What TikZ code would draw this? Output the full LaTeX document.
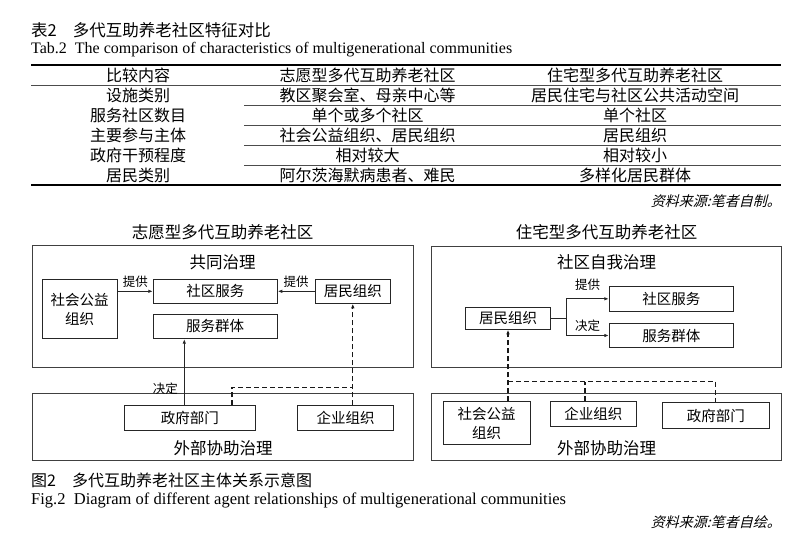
\documentclass[tikz,border=0pt]{standalone}
\usepackage{fontspec}
\setmainfont{Liberation Serif}
\newfontfamily\cjk{Noto Sans CJK SC}
\newfontfamily\cjksl[FakeSlant=0.25]{Noto Sans CJK SC}
\usetikzlibrary{arrows.meta}
\begin{document}
\begin{tikzpicture}[x=1pt,y=-1pt,
  line/.style={draw=black!85,line width=0.9pt},
  box/.style={line,inner sep=0pt,font=\cjk\fontsize{14.5}{18}\selectfont,align=center},
  frame/.style={draw=black!75,line width=0.9pt,inner sep=0pt},
  ttl/.style={font=\cjk\fontsize{16.5}{19}\selectfont,inner sep=0pt},
  lbl/.style={font=\cjk\fontsize{12.5}{14}\selectfont,inner sep=0pt},
  tcell/.style={font=\cjk\fontsize{16}{18}\selectfont,inner sep=0pt},
  note/.style={font=\cjksl\fontsize{14}{16}\selectfont,inner sep=0pt,anchor=east},
  entext/.style={inner sep=0pt,anchor=west},
  arr/.style={-{Latex[length=4.5pt,width=3.5pt]}},
  dsh/.style={draw=black!90,line width=1.2pt,dash pattern=on 5pt off 3pt},
  trule/.style={draw=black,line width=1.8pt},
  srule/.style={draw=black!70,line width=0.8pt},
]
\useasboundingbox (0,0) rectangle (794,542);

% ---------- Table ----------
\node[ttl,anchor=west] (tcap) at (31,30) {表2\hspace{16pt}多代互助养老社区特征对比};
\node[entext,font=\fontsize{16}{18}\selectfont] (tcapen) at (31,50) {Tab.2\ \ The comparison of characteristics of multigenerational communities};

\coordinate (tl0) at (31,65);  \coordinate (tr0) at (781,65);
\coordinate (tl1) at (31,85);  \coordinate (tr1) at (781,85);
\coordinate (tl2) at (244,105); \coordinate (tr2) at (781,105);
\coordinate (tl3) at (244,125); \coordinate (tr3) at (781,125);
\coordinate (tl4) at (244,145); \coordinate (tr4) at (781,145);
\coordinate (tl5) at (244,165); \coordinate (tr5) at (781,165);
\coordinate (tl6) at (31,185); \coordinate (tr6) at (781,185);
\draw[trule] (tl0) -- (tr0);
\draw[srule] (tl1) -- (tr1);
\draw[srule] (tl2) -- (tr2);
\draw[srule] (tl3) -- (tr3);
\draw[srule] (tl4) -- (tr4);
\draw[srule] (tl5) -- (tr5);
\draw[trule] (tl6) -- (tr6);

\node[tcell] (h1) at (138,75) {比较内容};
\node[tcell] (h2) at (367.5,75) {志愿型多代互助养老社区};
\node[tcell] (h3) at (635,75) {住宅型多代互助养老社区};
\node[tcell] (a1) at (138,95) {设施类别};
\node[tcell] (a2) at (367.5,95) {教区聚会室、母亲中心等};
\node[tcell] (a3) at (635,95) {居民住宅与社区公共活动空间};
\node[tcell] (b1) at (138,115) {服务社区数目};
\node[tcell] (b2) at (367.5,115) {单个或多个社区};
\node[tcell] (b3) at (635,115) {单个社区};
\node[tcell] (c1) at (138,135) {主要参与主体};
\node[tcell] (c2) at (367.5,135) {社会公益组织、居民组织};
\node[tcell] (c3) at (635,135) {居民组织};
\node[tcell] (d1) at (138,155) {政府干预程度};
\node[tcell] (d2) at (367.5,155) {相对较大};
\node[tcell] (d3) at (635,155) {相对较小};
\node[tcell] (e1) at (138,175) {居民类别};
\node[tcell] (e2) at (367.5,175) {阿尔茨海默病患者、难民};
\node[tcell] (e3) at (635,175) {多样化居民群体};

\node[note] (src1) at (781,201) {资料来源:笔者自制。};

% ---------- Left figure ----------
\node[ttl] (titL) at (222.5,232) {志愿型多代互助养老社区};
\node[frame,minimum width=381.4pt,minimum height=122pt] (outL) at (223,306.7) {};
\node[ttl] (gzL) at (222.5,262) {共同治理};
\node[frame,minimum width=381pt,minimum height=66.7pt] (extL) at (222.8,426.7) {};
\node[ttl] (xzL) at (223,448.5) {外部协助治理};

\node[box,minimum width=75.3pt,minimum height=59.4pt] (gyL) at (79.7,309) {社会公益\\[1pt]组织};
\node[box,minimum width=124pt,minimum height=24pt] (fwL) at (215.3,291.3) {社区服务};
\node[box,minimum width=124pt,minimum height=24.7pt] (qtL) at (215.2,326.3) {服务群体};
\node[box,minimum width=75.7pt,minimum height=24pt] (jmL) at (352.8,291.3) {居民组织};
\node[box,minimum width=131.7pt,minimum height=24.6pt] (zfL) at (189.8,418) {政府部门};
\node[box,minimum width=95.6pt,minimum height=24.6pt] (qyL) at (345.5,418) {企业组织};

\draw[line,arr] (gyL.east |- fwL.west) -- node[lbl,above=3pt] (tg1) {提供} (fwL.west);
\draw[line,arr] (jmL.west) -- node[lbl,above=3pt] (tg2) {提供} (fwL.east);
\draw[line,arr] ([xshift=-5.5pt]zfL.north) -- node[lbl,pos=0.25,left=6pt] (jd1) {决定} ([xshift=-5.5pt]zfL.north |- qtL.south);
\coordinate (jL) at (352.8,387.3);
\draw[dsh,arr] (qyL.north -| jmL.south) -- (jmL.south);
\draw[dsh] ([xshift=42.2pt]zfL.north) |- (jL);

% ---------- Right figure ----------
\node[ttl] (titR) at (606.7,232) {住宅型多代互助养老社区};
\node[frame,minimum width=350pt,minimum height=121pt] (outR) at (606.7,307.2) {};
\node[ttl] (gzR) at (606.7,262) {社区自我治理};
\node[frame,minimum width=350pt,minimum height=66.7pt] (extR) at (606.7,426.7) {};
\node[ttl] (xzR) at (606.7,448.5) {外部协助治理};

\node[box,minimum width=85.4pt,minimum height=21.6pt] (jmR) at (508,318.5) {居民组织};
\node[box,minimum width=124pt,minimum height=24.3pt] (fwR) at (671.3,298.8) {社区服务};
\node[box,minimum width=124pt,minimum height=24.4pt] (qtR) at (671.3,335.5) {服务群体};
\node[box,minimum width=86.7pt,minimum height=42.6pt] (gyR) at (486.7,423) {社会公益\\[1pt]组织};
\node[box,minimum width=85.3pt,minimum height=25pt] (qyR) at (593.3,414.2) {企业组织};
\node[box,minimum width=106.3pt,minimum height=25.6pt] (zfR) at (715.8,415.5) {政府部门};

\coordinate (brR) at (566,318.5);
\draw[line] (jmR.east) -- (brR);
\draw[line,arr] (brR) |- (fwR.west);
\draw[line,arr] (brR) |- (qtR.west);
\node[lbl] (tg3) at (587.7,285) {提供};
\node[lbl] (jd2) at (587.7,325.5) {决定};

\coordinate (hR) at (508,381.7);
\draw[dsh,arr] (gyR.north -| jmR.south) -- (jmR.south);
\draw[dsh] (hR) -| (zfR.north);
\draw[dsh] ([xshift=-8.3pt]qyR.north) -- ([xshift=-8.3pt]qyR.north |- hR);

% ---------- Figure caption ----------
\node[ttl,anchor=west,font=\cjk\fontsize{16}{18}\selectfont] (fcap) at (31,480) {图2\hspace{16pt}多代互助养老社区主体关系示意图};
\node[entext,font=\fontsize{16.5}{18}\selectfont] (fcapen) at (31,500) {Fig.2\ \ Diagram of different agent relationships of multigenerational communities};
\node[note] (src2) at (781,522) {资料来源:笔者自绘。};
\end{tikzpicture}
\end{document}
